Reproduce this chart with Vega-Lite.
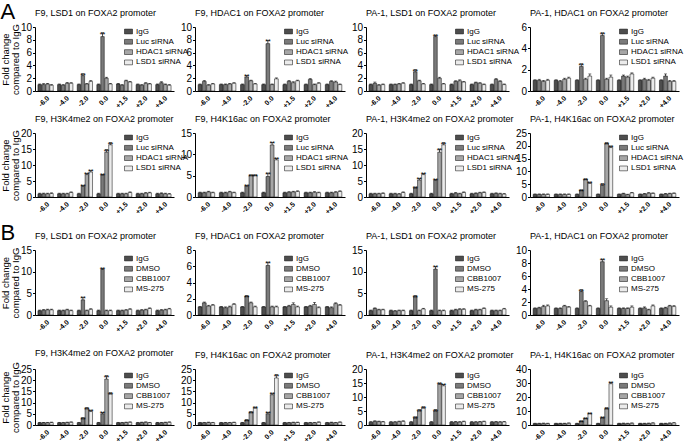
{
"$schema": "https://vega.github.io/schema/vega-lite/v6.json",
"padding": {"left": 0, "top": 1, "right": 1, "bottom": 0},
"data": {"values": [
{"p":"A1","x":"-6.0","g":"IgG","v":1.0,"h":1.1},{"p":"A1","x":"-6.0","g":"Luc siRNA","v":1.0,"h":1.15},{"p":"A1","x":"-6.0","g":"HDAC1 siRNA","v":1.1,"h":1.2},{"p":"A1","x":"-6.0","g":"LSD1 siRNA","v":0.9,"h":1.0},
{"p":"A1","x":"-4.0","g":"IgG","v":1.0,"h":1.1},{"p":"A1","x":"-4.0","g":"Luc siRNA","v":0.9,"h":1.0},{"p":"A1","x":"-4.0","g":"HDAC1 siRNA","v":1.2,"h":1.35},{"p":"A1","x":"-4.0","g":"LSD1 siRNA","v":1.2,"h":1.3},
{"p":"A1","x":"-2.0","g":"IgG","v":1.0,"h":1.1},{"p":"A1","x":"-2.0","g":"Luc siRNA","v":2.4,"h":2.7,"s":"**"},{"p":"A1","x":"-2.0","g":"HDAC1 siRNA","v":1.1,"h":1.2},{"p":"A1","x":"-2.0","g":"LSD1 siRNA","v":1.5,"h":1.65},
{"p":"A1","x":"0.0","g":"IgG","v":1.0,"h":1.1},{"p":"A1","x":"0.0","g":"Luc siRNA","v":8.5,"h":9.1,"s":"**"},{"p":"A1","x":"0.0","g":"HDAC1 siRNA","v":2.0,"h":2.15},{"p":"A1","x":"0.0","g":"LSD1 siRNA","v":1.1,"h":1.2},
{"p":"A1","x":"+1.5","g":"IgG","v":1.1,"h":1.2},{"p":"A1","x":"+1.5","g":"Luc siRNA","v":0.9,"h":1.0},{"p":"A1","x":"+1.5","g":"HDAC1 siRNA","v":1.6,"h":1.7},{"p":"A1","x":"+1.5","g":"LSD1 siRNA","v":1.4,"h":1.5},
{"p":"A1","x":"+2.0","g":"IgG","v":1.0,"h":1.1},{"p":"A1","x":"+2.0","g":"Luc siRNA","v":0.9,"h":1.0},{"p":"A1","x":"+2.0","g":"HDAC1 siRNA","v":1.2,"h":1.3},{"p":"A1","x":"+2.0","g":"LSD1 siRNA","v":1.1,"h":1.2},
{"p":"A1","x":"+4.0","g":"IgG","v":1.0,"h":1.1},{"p":"A1","x":"+4.0","g":"Luc siRNA","v":1.3,"h":1.45},{"p":"A1","x":"+4.0","g":"HDAC1 siRNA","v":1.0,"h":1.1},{"p":"A1","x":"+4.0","g":"LSD1 siRNA","v":0.9,"h":1.0},
{"p":"A2","x":"-6.0","g":"IgG","v":1.0,"h":1.1},{"p":"A2","x":"-6.0","g":"Luc siRNA","v":1.5,"h":1.65},{"p":"A2","x":"-6.0","g":"HDAC1 siRNA","v":0.9,"h":1.0},{"p":"A2","x":"-6.0","g":"LSD1 siRNA","v":1.1,"h":1.2},
{"p":"A2","x":"-4.0","g":"IgG","v":1.0,"h":1.1},{"p":"A2","x":"-4.0","g":"Luc siRNA","v":1.0,"h":1.1},{"p":"A2","x":"-4.0","g":"HDAC1 siRNA","v":1.1,"h":1.2},{"p":"A2","x":"-4.0","g":"LSD1 siRNA","v":1.2,"h":1.3},
{"p":"A2","x":"-2.0","g":"IgG","v":1.0,"h":1.1},{"p":"A2","x":"-2.0","g":"Luc siRNA","v":2.2,"h":2.45,"s":"**"},{"p":"A2","x":"-2.0","g":"HDAC1 siRNA","v":1.6,"h":1.7},{"p":"A2","x":"-2.0","g":"LSD1 siRNA","v":1.1,"h":1.2},
{"p":"A2","x":"0.0","g":"IgG","v":1.0,"h":1.1},{"p":"A2","x":"0.0","g":"Luc siRNA","v":7.4,"h":7.9,"s":"**"},{"p":"A2","x":"0.0","g":"HDAC1 siRNA","v":1.0,"h":1.1},{"p":"A2","x":"0.0","g":"LSD1 siRNA","v":1.9,"h":2.05},
{"p":"A2","x":"+1.5","g":"IgG","v":1.0,"h":1.1},{"p":"A2","x":"+1.5","g":"Luc siRNA","v":1.5,"h":1.65},{"p":"A2","x":"+1.5","g":"HDAC1 siRNA","v":1.3,"h":1.45},{"p":"A2","x":"+1.5","g":"LSD1 siRNA","v":1.6,"h":1.7},
{"p":"A2","x":"+2.0","g":"IgG","v":1.0,"h":1.1},{"p":"A2","x":"+2.0","g":"Luc siRNA","v":1.8,"h":1.95},{"p":"A2","x":"+2.0","g":"HDAC1 siRNA","v":1.0,"h":1.1},{"p":"A2","x":"+2.0","g":"LSD1 siRNA","v":1.2,"h":1.3},
{"p":"A2","x":"+4.0","g":"IgG","v":1.0,"h":1.1},{"p":"A2","x":"+4.0","g":"Luc siRNA","v":1.5,"h":1.6},{"p":"A2","x":"+4.0","g":"HDAC1 siRNA","v":1.4,"h":1.55},{"p":"A2","x":"+4.0","g":"LSD1 siRNA","v":1.0,"h":1.1},
{"p":"A3","x":"-6.0","g":"IgG","v":1.0,"h":1.1},{"p":"A3","x":"-6.0","g":"Luc siRNA","v":1.2,"h":1.4},{"p":"A3","x":"-6.0","g":"HDAC1 siRNA","v":0.9,"h":1.0},{"p":"A3","x":"-6.0","g":"LSD1 siRNA","v":1.0,"h":1.1},
{"p":"A3","x":"-4.0","g":"IgG","v":1.0,"h":1.1},{"p":"A3","x":"-4.0","g":"Luc siRNA","v":1.0,"h":1.1},{"p":"A3","x":"-4.0","g":"HDAC1 siRNA","v":1.1,"h":1.2},{"p":"A3","x":"-4.0","g":"LSD1 siRNA","v":1.2,"h":1.3},
{"p":"A3","x":"-2.0","g":"IgG","v":1.0,"h":1.1},{"p":"A3","x":"-2.0","g":"Luc siRNA","v":3.0,"h":3.35,"s":"**"},{"p":"A3","x":"-2.0","g":"HDAC1 siRNA","v":1.6,"h":1.7},{"p":"A3","x":"-2.0","g":"LSD1 siRNA","v":1.1,"h":1.2},
{"p":"A3","x":"0.0","g":"IgG","v":1.0,"h":1.1},{"p":"A3","x":"0.0","g":"Luc siRNA","v":8.5,"h":8.75,"s":"**"},{"p":"A3","x":"0.0","g":"HDAC1 siRNA","v":2.0,"h":2.15},{"p":"A3","x":"0.0","g":"LSD1 siRNA","v":1.1,"h":1.2},
{"p":"A3","x":"+1.5","g":"IgG","v":1.0,"h":1.1},{"p":"A3","x":"+1.5","g":"Luc siRNA","v":1.5,"h":1.6},{"p":"A3","x":"+1.5","g":"HDAC1 siRNA","v":1.6,"h":1.75},{"p":"A3","x":"+1.5","g":"LSD1 siRNA","v":1.4,"h":1.5},
{"p":"A3","x":"+2.0","g":"IgG","v":1.0,"h":1.1},{"p":"A3","x":"+2.0","g":"Luc siRNA","v":1.3,"h":1.4},{"p":"A3","x":"+2.0","g":"HDAC1 siRNA","v":1.2,"h":1.3},{"p":"A3","x":"+2.0","g":"LSD1 siRNA","v":1.0,"h":1.1},
{"p":"A3","x":"+4.0","g":"IgG","v":1.0,"h":1.1},{"p":"A3","x":"+4.0","g":"Luc siRNA","v":1.8,"h":1.95},{"p":"A3","x":"+4.0","g":"HDAC1 siRNA","v":1.5,"h":1.6},{"p":"A3","x":"+4.0","g":"LSD1 siRNA","v":1.0,"h":1.1},
{"p":"A4","x":"-6.0","g":"IgG","v":1.0,"h":1.05},{"p":"A4","x":"-6.0","g":"Luc siRNA","v":1.0,"h":1.1},{"p":"A4","x":"-6.0","g":"HDAC1 siRNA","v":0.9,"h":1.0},{"p":"A4","x":"-6.0","g":"LSD1 siRNA","v":1.0,"h":1.1},
{"p":"A4","x":"-4.0","g":"IgG","v":1.0,"h":1.05},{"p":"A4","x":"-4.0","g":"Luc siRNA","v":0.9,"h":1.0},{"p":"A4","x":"-4.0","g":"HDAC1 siRNA","v":1.1,"h":1.2},{"p":"A4","x":"-4.0","g":"LSD1 siRNA","v":1.2,"h":1.3},
{"p":"A4","x":"-2.0","g":"IgG","v":1.0,"h":1.05},{"p":"A4","x":"-2.0","g":"Luc siRNA","v":2.3,"h":2.55,"s":"**"},{"p":"A4","x":"-2.0","g":"HDAC1 siRNA","v":1.1,"h":1.2},{"p":"A4","x":"-2.0","g":"LSD1 siRNA","v":1.4,"h":1.6},
{"p":"A4","x":"0.0","g":"IgG","v":1.0,"h":1.05},{"p":"A4","x":"0.0","g":"Luc siRNA","v":5.2,"h":5.45,"s":"**"},{"p":"A4","x":"0.0","g":"HDAC1 siRNA","v":1.1,"h":1.2},{"p":"A4","x":"0.0","g":"LSD1 siRNA","v":1.3,"h":1.5},
{"p":"A4","x":"+1.5","g":"IgG","v":1.0,"h":1.05},{"p":"A4","x":"+1.5","g":"Luc siRNA","v":1.4,"h":1.5},{"p":"A4","x":"+1.5","g":"HDAC1 siRNA","v":1.3,"h":1.4},{"p":"A4","x":"+1.5","g":"LSD1 siRNA","v":1.6,"h":1.7},
{"p":"A4","x":"+2.0","g":"IgG","v":1.0,"h":1.05},{"p":"A4","x":"+2.0","g":"Luc siRNA","v":1.1,"h":1.2},{"p":"A4","x":"+2.0","g":"HDAC1 siRNA","v":1.0,"h":1.1},{"p":"A4","x":"+2.0","g":"LSD1 siRNA","v":1.2,"h":1.3},
{"p":"A4","x":"+4.0","g":"IgG","v":1.0,"h":1.05},{"p":"A4","x":"+4.0","g":"Luc siRNA","v":1.4,"h":1.6},{"p":"A4","x":"+4.0","g":"HDAC1 siRNA","v":0.9,"h":1.0},{"p":"A4","x":"+4.0","g":"LSD1 siRNA","v":0.9,"h":1.0},
{"p":"A5","x":"-6.0","g":"IgG","v":1.0,"h":1.2},{"p":"A5","x":"-6.0","g":"Luc siRNA","v":1.0,"h":1.2},{"p":"A5","x":"-6.0","g":"HDAC1 siRNA","v":1.0,"h":1.2},{"p":"A5","x":"-6.0","g":"LSD1 siRNA","v":1.1,"h":1.3},
{"p":"A5","x":"-4.0","g":"IgG","v":1.0,"h":1.2},{"p":"A5","x":"-4.0","g":"Luc siRNA","v":1.0,"h":1.2},{"p":"A5","x":"-4.0","g":"HDAC1 siRNA","v":1.0,"h":1.2},{"p":"A5","x":"-4.0","g":"LSD1 siRNA","v":1.4,"h":1.6},
{"p":"A5","x":"-2.0","g":"IgG","v":1.0,"h":1.2},{"p":"A5","x":"-2.0","g":"Luc siRNA","v":3.3,"h":3.6,"s":"**"},{"p":"A5","x":"-2.0","g":"HDAC1 siRNA","v":7.0,"h":7.4,"s":"**"},{"p":"A5","x":"-2.0","g":"LSD1 siRNA","v":7.8,"h":8.3,"s":"**"},
{"p":"A5","x":"0.0","g":"IgG","v":1.0,"h":1.2},{"p":"A5","x":"0.0","g":"Luc siRNA","v":6.8,"h":7.1,"s":"**"},{"p":"A5","x":"0.0","g":"HDAC1 siRNA","v":14.0,"h":14.8,"s":"**"},{"p":"A5","x":"0.0","g":"LSD1 siRNA","v":16.3,"h":17.0,"s":"**"},
{"p":"A5","x":"+1.5","g":"IgG","v":1.0,"h":1.2},{"p":"A5","x":"+1.5","g":"Luc siRNA","v":1.0,"h":1.2},{"p":"A5","x":"+1.5","g":"HDAC1 siRNA","v":1.0,"h":1.2},{"p":"A5","x":"+1.5","g":"LSD1 siRNA","v":1.4,"h":1.6},
{"p":"A5","x":"+2.0","g":"IgG","v":1.0,"h":1.2},{"p":"A5","x":"+2.0","g":"Luc siRNA","v":1.0,"h":1.2},{"p":"A5","x":"+2.0","g":"HDAC1 siRNA","v":1.2,"h":1.4},{"p":"A5","x":"+2.0","g":"LSD1 siRNA","v":1.3,"h":1.5},
{"p":"A5","x":"+4.0","g":"IgG","v":1.0,"h":1.2},{"p":"A5","x":"+4.0","g":"Luc siRNA","v":1.1,"h":1.3},{"p":"A5","x":"+4.0","g":"HDAC1 siRNA","v":1.0,"h":1.2},{"p":"A5","x":"+4.0","g":"LSD1 siRNA","v":0.9,"h":1.1},
{"p":"A6","x":"-6.0","g":"IgG","v":1.0,"h":1.15},{"p":"A6","x":"-6.0","g":"Luc siRNA","v":1.0,"h":1.15},{"p":"A6","x":"-6.0","g":"HDAC1 siRNA","v":1.2,"h":1.35},{"p":"A6","x":"-6.0","g":"LSD1 siRNA","v":1.0,"h":1.15},
{"p":"A6","x":"-4.0","g":"IgG","v":1.0,"h":1.15},{"p":"A6","x":"-4.0","g":"Luc siRNA","v":1.0,"h":1.15},{"p":"A6","x":"-4.0","g":"HDAC1 siRNA","v":1.2,"h":1.35},{"p":"A6","x":"-4.0","g":"LSD1 siRNA","v":1.0,"h":1.15},
{"p":"A6","x":"-2.0","g":"IgG","v":1.0,"h":1.15},{"p":"A6","x":"-2.0","g":"Luc siRNA","v":2.5,"h":2.75,"s":"**"},{"p":"A6","x":"-2.0","g":"HDAC1 siRNA","v":5.0,"h":5.2,"s":"**"},{"p":"A6","x":"-2.0","g":"LSD1 siRNA","v":5.0,"h":5.2,"s":"**"},
{"p":"A6","x":"0.0","g":"IgG","v":1.0,"h":1.15},{"p":"A6","x":"0.0","g":"Luc siRNA","v":4.8,"h":5.6,"s":"**"},{"p":"A6","x":"0.0","g":"HDAC1 siRNA","v":12.2,"h":12.8,"s":"**"},{"p":"A6","x":"0.0","g":"LSD1 siRNA","v":8.7,"h":9.1,"s":"**"},
{"p":"A6","x":"+1.5","g":"IgG","v":1.0,"h":1.15},{"p":"A6","x":"+1.5","g":"Luc siRNA","v":1.1,"h":1.25},{"p":"A6","x":"+1.5","g":"HDAC1 siRNA","v":1.2,"h":1.35},{"p":"A6","x":"+1.5","g":"LSD1 siRNA","v":1.3,"h":1.45},
{"p":"A6","x":"+2.0","g":"IgG","v":1.0,"h":1.15},{"p":"A6","x":"+2.0","g":"Luc siRNA","v":1.0,"h":1.15},{"p":"A6","x":"+2.0","g":"HDAC1 siRNA","v":1.1,"h":1.25},{"p":"A6","x":"+2.0","g":"LSD1 siRNA","v":1.0,"h":1.15},
{"p":"A6","x":"+4.0","g":"IgG","v":1.0,"h":1.15},{"p":"A6","x":"+4.0","g":"Luc siRNA","v":1.0,"h":1.15},{"p":"A6","x":"+4.0","g":"HDAC1 siRNA","v":1.1,"h":1.25},{"p":"A6","x":"+4.0","g":"LSD1 siRNA","v":1.3,"h":1.45},
{"p":"A7","x":"-6.0","g":"IgG","v":1.0,"h":1.2},{"p":"A7","x":"-6.0","g":"Luc siRNA","v":1.0,"h":1.2},{"p":"A7","x":"-6.0","g":"HDAC1 siRNA","v":1.0,"h":1.2},{"p":"A7","x":"-6.0","g":"LSD1 siRNA","v":1.1,"h":1.3},
{"p":"A7","x":"-4.0","g":"IgG","v":1.0,"h":1.2},{"p":"A7","x":"-4.0","g":"Luc siRNA","v":1.0,"h":1.2},{"p":"A7","x":"-4.0","g":"HDAC1 siRNA","v":0.9,"h":1.1},{"p":"A7","x":"-4.0","g":"LSD1 siRNA","v":1.4,"h":1.6},
{"p":"A7","x":"-2.0","g":"IgG","v":1.0,"h":1.2},{"p":"A7","x":"-2.0","g":"Luc siRNA","v":2.8,"h":3.1,"s":"**"},{"p":"A7","x":"-2.0","g":"HDAC1 siRNA","v":5.3,"h":5.8,"s":"**"},{"p":"A7","x":"-2.0","g":"LSD1 siRNA","v":7.0,"h":7.4,"s":"**"},
{"p":"A7","x":"0.0","g":"IgG","v":1.0,"h":1.2},{"p":"A7","x":"0.0","g":"Luc siRNA","v":5.2,"h":5.5,"s":"**"},{"p":"A7","x":"0.0","g":"HDAC1 siRNA","v":14.0,"h":15.0,"s":"**"},{"p":"A7","x":"0.0","g":"LSD1 siRNA","v":16.3,"h":17.0,"s":"**"},
{"p":"A7","x":"+1.5","g":"IgG","v":1.0,"h":1.2},{"p":"A7","x":"+1.5","g":"Luc siRNA","v":1.2,"h":1.4},{"p":"A7","x":"+1.5","g":"HDAC1 siRNA","v":1.0,"h":1.2},{"p":"A7","x":"+1.5","g":"LSD1 siRNA","v":1.4,"h":1.6},
{"p":"A7","x":"+2.0","g":"IgG","v":1.0,"h":1.2},{"p":"A7","x":"+2.0","g":"Luc siRNA","v":1.1,"h":1.3},{"p":"A7","x":"+2.0","g":"HDAC1 siRNA","v":1.3,"h":1.5},{"p":"A7","x":"+2.0","g":"LSD1 siRNA","v":1.4,"h":1.6},
{"p":"A7","x":"+4.0","g":"IgG","v":1.0,"h":1.2},{"p":"A7","x":"+4.0","g":"Luc siRNA","v":1.1,"h":1.3},{"p":"A7","x":"+4.0","g":"HDAC1 siRNA","v":1.0,"h":1.2},{"p":"A7","x":"+4.0","g":"LSD1 siRNA","v":0.9,"h":1.1},
{"p":"A8","x":"-6.0","g":"IgG","v":1.0,"h":1.2},{"p":"A8","x":"-6.0","g":"Luc siRNA","v":1.0,"h":1.2},{"p":"A8","x":"-6.0","g":"HDAC1 siRNA","v":1.0,"h":1.2},{"p":"A8","x":"-6.0","g":"LSD1 siRNA","v":1.0,"h":1.2},
{"p":"A8","x":"-4.0","g":"IgG","v":1.0,"h":1.2},{"p":"A8","x":"-4.0","g":"Luc siRNA","v":1.0,"h":1.2},{"p":"A8","x":"-4.0","g":"HDAC1 siRNA","v":1.0,"h":1.2},{"p":"A8","x":"-4.0","g":"LSD1 siRNA","v":1.0,"h":1.2},
{"p":"A8","x":"-2.0","g":"IgG","v":1.0,"h":1.2},{"p":"A8","x":"-2.0","g":"Luc siRNA","v":2.5,"h":2.8,"s":"**"},{"p":"A8","x":"-2.0","g":"HDAC1 siRNA","v":6.8,"h":7.1,"s":"**"},{"p":"A8","x":"-2.0","g":"LSD1 siRNA","v":5.3,"h":5.8,"s":"**"},
{"p":"A8","x":"0.0","g":"IgG","v":1.0,"h":1.2},{"p":"A8","x":"0.0","g":"Luc siRNA","v":4.5,"h":5.2,"s":"**"},{"p":"A8","x":"0.0","g":"HDAC1 siRNA","v":20.8,"h":21.2,"s":"**"},{"p":"A8","x":"0.0","g":"LSD1 siRNA","v":19.3,"h":19.9,"s":"**"},
{"p":"A8","x":"+1.5","g":"IgG","v":1.0,"h":1.2},{"p":"A8","x":"+1.5","g":"Luc siRNA","v":1.3,"h":1.5},{"p":"A8","x":"+1.5","g":"HDAC1 siRNA","v":0.9,"h":1.1},{"p":"A8","x":"+1.5","g":"LSD1 siRNA","v":1.6,"h":1.8},
{"p":"A8","x":"+2.0","g":"IgG","v":1.0,"h":1.2},{"p":"A8","x":"+2.0","g":"Luc siRNA","v":1.2,"h":1.4},{"p":"A8","x":"+2.0","g":"HDAC1 siRNA","v":1.5,"h":1.7},{"p":"A8","x":"+2.0","g":"LSD1 siRNA","v":1.4,"h":1.6},
{"p":"A8","x":"+4.0","g":"IgG","v":1.0,"h":1.2},{"p":"A8","x":"+4.0","g":"Luc siRNA","v":1.2,"h":1.4},{"p":"A8","x":"+4.0","g":"HDAC1 siRNA","v":1.3,"h":1.5},{"p":"A8","x":"+4.0","g":"LSD1 siRNA","v":1.4,"h":1.6},
{"p":"B1","x":"-6.0","g":"IgG","v":1.0,"h":1.15},{"p":"B1","x":"-6.0","g":"DMSO","v":1.1,"h":1.25},{"p":"B1","x":"-6.0","g":"CBB1007","v":1.2,"h":1.35},{"p":"B1","x":"-6.0","g":"MS-275","v":1.2,"h":1.35},
{"p":"B1","x":"-4.0","g":"IgG","v":1.0,"h":1.15},{"p":"B1","x":"-4.0","g":"DMSO","v":1.0,"h":1.15},{"p":"B1","x":"-4.0","g":"CBB1007","v":1.2,"h":1.35},{"p":"B1","x":"-4.0","g":"MS-275","v":1.0,"h":1.15},
{"p":"B1","x":"-2.0","g":"IgG","v":1.0,"h":1.15},{"p":"B1","x":"-2.0","g":"DMSO","v":3.5,"h":4.1,"s":"**"},{"p":"B1","x":"-2.0","g":"CBB1007","v":1.0,"h":1.15},{"p":"B1","x":"-2.0","g":"MS-275","v":1.3,"h":1.45},
{"p":"B1","x":"0.0","g":"IgG","v":1.0,"h":1.15},{"p":"B1","x":"0.0","g":"DMSO","v":10.5,"h":10.8,"s":"**"},{"p":"B1","x":"0.0","g":"CBB1007","v":1.0,"h":1.15},{"p":"B1","x":"0.0","g":"MS-275","v":1.0,"h":1.15},
{"p":"B1","x":"+1.5","g":"IgG","v":1.0,"h":1.15},{"p":"B1","x":"+1.5","g":"DMSO","v":1.0,"h":1.15},{"p":"B1","x":"+1.5","g":"CBB1007","v":1.1,"h":1.25},{"p":"B1","x":"+1.5","g":"MS-275","v":1.3,"h":1.45},
{"p":"B1","x":"+2.0","g":"IgG","v":1.0,"h":1.15},{"p":"B1","x":"+2.0","g":"DMSO","v":1.1,"h":1.25},{"p":"B1","x":"+2.0","g":"CBB1007","v":1.2,"h":1.35},{"p":"B1","x":"+2.0","g":"MS-275","v":1.5,"h":1.65},
{"p":"B1","x":"+4.0","g":"IgG","v":1.0,"h":1.15},{"p":"B1","x":"+4.0","g":"DMSO","v":1.1,"h":1.25},{"p":"B1","x":"+4.0","g":"CBB1007","v":1.2,"h":1.35},{"p":"B1","x":"+4.0","g":"MS-275","v":1.4,"h":1.55},
{"p":"B2","x":"-6.0","g":"IgG","v":1.0,"h":1.05},{"p":"B2","x":"-6.0","g":"DMSO","v":1.5,"h":1.6},{"p":"B2","x":"-6.0","g":"CBB1007","v":1.1,"h":1.2},{"p":"B2","x":"-6.0","g":"MS-275","v":1.2,"h":1.3},
{"p":"B2","x":"-4.0","g":"IgG","v":1.0,"h":1.05},{"p":"B2","x":"-4.0","g":"DMSO","v":0.9,"h":1.0},{"p":"B2","x":"-4.0","g":"CBB1007","v":1.0,"h":1.1},{"p":"B2","x":"-4.0","g":"MS-275","v":1.3,"h":1.4},
{"p":"B2","x":"-2.0","g":"IgG","v":1.0,"h":1.05},{"p":"B2","x":"-2.0","g":"DMSO","v":2.3,"h":2.4,"s":"**"},{"p":"B2","x":"-2.0","g":"CBB1007","v":1.5,"h":1.6},{"p":"B2","x":"-2.0","g":"MS-275","v":1.0,"h":1.1},
{"p":"B2","x":"0.0","g":"IgG","v":1.0,"h":1.05},{"p":"B2","x":"0.0","g":"DMSO","v":6.1,"h":6.5,"s":"**"},{"p":"B2","x":"0.0","g":"CBB1007","v":1.0,"h":1.1},{"p":"B2","x":"0.0","g":"MS-275","v":1.0,"h":1.1},
{"p":"B2","x":"+1.5","g":"IgG","v":1.0,"h":1.05},{"p":"B2","x":"+1.5","g":"DMSO","v":1.1,"h":1.2},{"p":"B2","x":"+1.5","g":"CBB1007","v":1.3,"h":1.5},{"p":"B2","x":"+1.5","g":"MS-275","v":1.0,"h":1.1},
{"p":"B2","x":"+2.0","g":"IgG","v":1.0,"h":1.05},{"p":"B2","x":"+2.0","g":"DMSO","v":1.1,"h":1.2},{"p":"B2","x":"+2.0","g":"CBB1007","v":1.3,"h":1.55},{"p":"B2","x":"+2.0","g":"MS-275","v":0.9,"h":1.0},
{"p":"B2","x":"+4.0","g":"IgG","v":1.0,"h":1.05},{"p":"B2","x":"+4.0","g":"DMSO","v":0.9,"h":1.0},{"p":"B2","x":"+4.0","g":"CBB1007","v":1.4,"h":1.5},{"p":"B2","x":"+4.0","g":"MS-275","v":1.2,"h":1.3},
{"p":"B3","x":"-6.0","g":"IgG","v":1.0,"h":1.15},{"p":"B3","x":"-6.0","g":"DMSO","v":1.5,"h":1.65},{"p":"B3","x":"-6.0","g":"CBB1007","v":1.2,"h":1.35},{"p":"B3","x":"-6.0","g":"MS-275","v":1.2,"h":1.35},
{"p":"B3","x":"-4.0","g":"IgG","v":1.0,"h":1.15},{"p":"B3","x":"-4.0","g":"DMSO","v":0.9,"h":1.05},{"p":"B3","x":"-4.0","g":"CBB1007","v":1.0,"h":1.15},{"p":"B3","x":"-4.0","g":"MS-275","v":1.0,"h":1.15},
{"p":"B3","x":"-2.0","g":"IgG","v":1.0,"h":1.15},{"p":"B3","x":"-2.0","g":"DMSO","v":4.2,"h":4.5,"s":"**"},{"p":"B3","x":"-2.0","g":"CBB1007","v":1.0,"h":1.15},{"p":"B3","x":"-2.0","g":"MS-275","v":1.4,"h":1.55},
{"p":"B3","x":"0.0","g":"IgG","v":1.0,"h":1.15},{"p":"B3","x":"0.0","g":"DMSO","v":10.6,"h":11.2,"s":"**"},{"p":"B3","x":"0.0","g":"CBB1007","v":1.0,"h":1.15},{"p":"B3","x":"0.0","g":"MS-275","v":1.0,"h":1.15},
{"p":"B3","x":"+1.5","g":"IgG","v":1.0,"h":1.15},{"p":"B3","x":"+1.5","g":"DMSO","v":1.2,"h":1.35},{"p":"B3","x":"+1.5","g":"CBB1007","v":1.3,"h":1.45},{"p":"B3","x":"+1.5","g":"MS-275","v":1.3,"h":1.45},
{"p":"B3","x":"+2.0","g":"IgG","v":1.0,"h":1.15},{"p":"B3","x":"+2.0","g":"DMSO","v":1.2,"h":1.35},{"p":"B3","x":"+2.0","g":"CBB1007","v":1.2,"h":1.35},{"p":"B3","x":"+2.0","g":"MS-275","v":1.5,"h":1.65},
{"p":"B3","x":"+4.0","g":"IgG","v":1.0,"h":1.15},{"p":"B3","x":"+4.0","g":"DMSO","v":1.0,"h":1.15},{"p":"B3","x":"+4.0","g":"CBB1007","v":1.0,"h":1.15},{"p":"B3","x":"+4.0","g":"MS-275","v":1.4,"h":1.55},
{"p":"B4","x":"-6.0","g":"IgG","v":1.0,"h":1.1},{"p":"B4","x":"-6.0","g":"DMSO","v":1.1,"h":1.2},{"p":"B4","x":"-6.0","g":"CBB1007","v":1.3,"h":1.5},{"p":"B4","x":"-6.0","g":"MS-275","v":1.4,"h":1.55},
{"p":"B4","x":"-4.0","g":"IgG","v":1.0,"h":1.1},{"p":"B4","x":"-4.0","g":"DMSO","v":1.0,"h":1.1},{"p":"B4","x":"-4.0","g":"CBB1007","v":1.4,"h":1.5},{"p":"B4","x":"-4.0","g":"MS-275","v":1.2,"h":1.3},
{"p":"B4","x":"-2.0","g":"IgG","v":1.0,"h":1.1},{"p":"B4","x":"-2.0","g":"DMSO","v":3.6,"h":3.9,"s":"**"},{"p":"B4","x":"-2.0","g":"CBB1007","v":2.1,"h":2.2},{"p":"B4","x":"-2.0","g":"MS-275","v":1.4,"h":1.5},
{"p":"B4","x":"0.0","g":"IgG","v":1.0,"h":1.1},{"p":"B4","x":"0.0","g":"DMSO","v":8.2,"h":8.6,"s":"**"},{"p":"B4","x":"0.0","g":"CBB1007","v":2.2,"h":2.5},{"p":"B4","x":"0.0","g":"MS-275","v":1.2,"h":1.4},
{"p":"B4","x":"+1.5","g":"IgG","v":1.0,"h":1.1},{"p":"B4","x":"+1.5","g":"DMSO","v":1.0,"h":1.1},{"p":"B4","x":"+1.5","g":"CBB1007","v":1.0,"h":1.1},{"p":"B4","x":"+1.5","g":"MS-275","v":1.2,"h":1.4},
{"p":"B4","x":"+2.0","g":"IgG","v":1.0,"h":1.1},{"p":"B4","x":"+2.0","g":"DMSO","v":1.1,"h":1.25},{"p":"B4","x":"+2.0","g":"CBB1007","v":0.8,"h":0.9},{"p":"B4","x":"+2.0","g":"MS-275","v":1.4,"h":1.55},
{"p":"B4","x":"+4.0","g":"IgG","v":1.0,"h":1.1},{"p":"B4","x":"+4.0","g":"DMSO","v":1.1,"h":1.2},{"p":"B4","x":"+4.0","g":"CBB1007","v":1.4,"h":1.5},{"p":"B4","x":"+4.0","g":"MS-275","v":1.3,"h":1.45},
{"p":"B5","x":"-6.0","g":"IgG","v":1.0,"h":1.2},{"p":"B5","x":"-6.0","g":"DMSO","v":1.0,"h":1.2},{"p":"B5","x":"-6.0","g":"CBB1007","v":1.0,"h":1.2},{"p":"B5","x":"-6.0","g":"MS-275","v":1.1,"h":1.3},
{"p":"B5","x":"-4.0","g":"IgG","v":1.0,"h":1.2},{"p":"B5","x":"-4.0","g":"DMSO","v":1.0,"h":1.2},{"p":"B5","x":"-4.0","g":"CBB1007","v":1.1,"h":1.3},{"p":"B5","x":"-4.0","g":"MS-275","v":1.2,"h":1.4},
{"p":"B5","x":"-2.0","g":"IgG","v":1.0,"h":1.2},{"p":"B5","x":"-2.0","g":"DMSO","v":2.8,"h":3.3,"s":"**"},{"p":"B5","x":"-2.0","g":"CBB1007","v":7.2,"h":7.8,"s":"**"},{"p":"B5","x":"-2.0","g":"MS-275","v":6.0,"h":6.6,"s":"**"},
{"p":"B5","x":"0.0","g":"IgG","v":1.0,"h":1.2},{"p":"B5","x":"0.0","g":"DMSO","v":5.0,"h":5.6,"s":"**"},{"p":"B5","x":"0.0","g":"CBB1007","v":20.5,"h":22.0,"s":"**"},{"p":"B5","x":"0.0","g":"MS-275","v":13.8,"h":14.4,"s":"**"},
{"p":"B5","x":"+1.5","g":"IgG","v":1.0,"h":1.2},{"p":"B5","x":"+1.5","g":"DMSO","v":1.0,"h":1.2},{"p":"B5","x":"+1.5","g":"CBB1007","v":1.1,"h":1.3},{"p":"B5","x":"+1.5","g":"MS-275","v":1.2,"h":1.4},
{"p":"B5","x":"+2.0","g":"IgG","v":1.0,"h":1.2},{"p":"B5","x":"+2.0","g":"DMSO","v":1.1,"h":1.3},{"p":"B5","x":"+2.0","g":"CBB1007","v":1.2,"h":1.4},{"p":"B5","x":"+2.0","g":"MS-275","v":1.0,"h":1.2},
{"p":"B5","x":"+4.0","g":"IgG","v":1.0,"h":1.2},{"p":"B5","x":"+4.0","g":"DMSO","v":1.0,"h":1.2},{"p":"B5","x":"+4.0","g":"CBB1007","v":1.1,"h":1.3},{"p":"B5","x":"+4.0","g":"MS-275","v":1.2,"h":1.4},
{"p":"B6","x":"-6.0","g":"IgG","v":1.0,"h":1.2},{"p":"B6","x":"-6.0","g":"DMSO","v":1.0,"h":1.2},{"p":"B6","x":"-6.0","g":"CBB1007","v":1.1,"h":1.3},{"p":"B6","x":"-6.0","g":"MS-275","v":1.0,"h":1.2},
{"p":"B6","x":"-4.0","g":"IgG","v":1.0,"h":1.2},{"p":"B6","x":"-4.0","g":"DMSO","v":1.0,"h":1.2},{"p":"B6","x":"-4.0","g":"CBB1007","v":1.0,"h":1.2},{"p":"B6","x":"-4.0","g":"MS-275","v":1.1,"h":1.3},
{"p":"B6","x":"-2.0","g":"IgG","v":1.0,"h":1.2},{"p":"B6","x":"-2.0","g":"DMSO","v":2.0,"h":2.4,"s":"**"},{"p":"B6","x":"-2.0","g":"CBB1007","v":5.5,"h":6.0,"s":"**"},{"p":"B6","x":"-2.0","g":"MS-275","v":7.5,"h":8.0,"s":"**"},
{"p":"B6","x":"0.0","g":"IgG","v":1.0,"h":1.2},{"p":"B6","x":"0.0","g":"DMSO","v":5.0,"h":5.6,"s":"**"},{"p":"B6","x":"0.0","g":"CBB1007","v":13.5,"h":14.2,"s":"**"},{"p":"B6","x":"0.0","g":"MS-275","v":21.0,"h":22.5,"s":"**"},
{"p":"B6","x":"+1.5","g":"IgG","v":1.0,"h":1.2},{"p":"B6","x":"+1.5","g":"DMSO","v":1.0,"h":1.2},{"p":"B6","x":"+1.5","g":"CBB1007","v":1.1,"h":1.3},{"p":"B6","x":"+1.5","g":"MS-275","v":1.1,"h":1.3},
{"p":"B6","x":"+2.0","g":"IgG","v":1.0,"h":1.2},{"p":"B6","x":"+2.0","g":"DMSO","v":1.0,"h":1.2},{"p":"B6","x":"+2.0","g":"CBB1007","v":1.0,"h":1.2},{"p":"B6","x":"+2.0","g":"MS-275","v":1.2,"h":1.4},
{"p":"B6","x":"+4.0","g":"IgG","v":1.0,"h":1.2},{"p":"B6","x":"+4.0","g":"DMSO","v":1.1,"h":1.3},{"p":"B6","x":"+4.0","g":"CBB1007","v":1.0,"h":1.2},{"p":"B6","x":"+4.0","g":"MS-275","v":1.2,"h":1.4},
{"p":"B7","x":"-6.0","g":"IgG","v":1.0,"h":1.2},{"p":"B7","x":"-6.0","g":"DMSO","v":1.3,"h":1.5},{"p":"B7","x":"-6.0","g":"CBB1007","v":1.2,"h":1.4},{"p":"B7","x":"-6.0","g":"MS-275","v":1.1,"h":1.3},
{"p":"B7","x":"-4.0","g":"IgG","v":1.0,"h":1.2},{"p":"B7","x":"-4.0","g":"DMSO","v":1.0,"h":1.2},{"p":"B7","x":"-4.0","g":"CBB1007","v":1.2,"h":1.4},{"p":"B7","x":"-4.0","g":"MS-275","v":1.3,"h":1.5},
{"p":"B7","x":"-2.0","g":"IgG","v":1.0,"h":1.2},{"p":"B7","x":"-2.0","g":"DMSO","v":2.5,"h":2.9,"s":"**"},{"p":"B7","x":"-2.0","g":"CBB1007","v":5.0,"h":5.5,"s":"**"},{"p":"B7","x":"-2.0","g":"MS-275","v":6.0,"h":6.5,"s":"**"},
{"p":"B7","x":"0.0","g":"IgG","v":1.0,"h":1.2},{"p":"B7","x":"0.0","g":"DMSO","v":5.0,"h":5.5,"s":"**"},{"p":"B7","x":"0.0","g":"CBB1007","v":14.5,"h":15.0,"s":"**"},{"p":"B7","x":"0.0","g":"MS-275","v":14.0,"h":14.5,"s":"**"},
{"p":"B7","x":"+1.5","g":"IgG","v":1.0,"h":1.2},{"p":"B7","x":"+1.5","g":"DMSO","v":1.1,"h":1.3},{"p":"B7","x":"+1.5","g":"CBB1007","v":1.0,"h":1.2},{"p":"B7","x":"+1.5","g":"MS-275","v":1.2,"h":1.4},
{"p":"B7","x":"+2.0","g":"IgG","v":1.0,"h":1.2},{"p":"B7","x":"+2.0","g":"DMSO","v":1.0,"h":1.2},{"p":"B7","x":"+2.0","g":"CBB1007","v":1.1,"h":1.3},{"p":"B7","x":"+2.0","g":"MS-275","v":1.2,"h":1.4},
{"p":"B7","x":"+4.0","g":"IgG","v":1.0,"h":1.2},{"p":"B7","x":"+4.0","g":"DMSO","v":1.1,"h":1.3},{"p":"B7","x":"+4.0","g":"CBB1007","v":1.0,"h":1.2},{"p":"B7","x":"+4.0","g":"MS-275","v":1.1,"h":1.3},
{"p":"B8","x":"-6.0","g":"IgG","v":1.0,"h":1.3},{"p":"B8","x":"-6.0","g":"DMSO","v":1.0,"h":1.3},{"p":"B8","x":"-6.0","g":"CBB1007","v":1.1,"h":1.4},{"p":"B8","x":"-6.0","g":"MS-275","v":1.0,"h":1.3},
{"p":"B8","x":"-4.0","g":"IgG","v":1.0,"h":1.3},{"p":"B8","x":"-4.0","g":"DMSO","v":1.0,"h":1.3},{"p":"B8","x":"-4.0","g":"CBB1007","v":1.0,"h":1.3},{"p":"B8","x":"-4.0","g":"MS-275","v":1.2,"h":1.5},
{"p":"B8","x":"-2.0","g":"IgG","v":1.0,"h":1.3},{"p":"B8","x":"-2.0","g":"DMSO","v":2.5,"h":3.0,"s":"**"},{"p":"B8","x":"-2.0","g":"CBB1007","v":4.5,"h":5.0,"s":"**"},{"p":"B8","x":"-2.0","g":"MS-275","v":8.0,"h":8.5,"s":"**"},
{"p":"B8","x":"0.0","g":"IgG","v":1.0,"h":1.3},{"p":"B8","x":"0.0","g":"DMSO","v":5.0,"h":5.6,"s":"**"},{"p":"B8","x":"0.0","g":"CBB1007","v":11.5,"h":12.3,"s":"**"},{"p":"B8","x":"0.0","g":"MS-275","v":29.5,"h":30.5,"s":"**"},
{"p":"B8","x":"+1.5","g":"IgG","v":1.0,"h":1.3},{"p":"B8","x":"+1.5","g":"DMSO","v":1.1,"h":1.4},{"p":"B8","x":"+1.5","g":"CBB1007","v":1.0,"h":1.3},{"p":"B8","x":"+1.5","g":"MS-275","v":1.2,"h":1.5},
{"p":"B8","x":"+2.0","g":"IgG","v":1.0,"h":1.3},{"p":"B8","x":"+2.0","g":"DMSO","v":1.0,"h":1.3},{"p":"B8","x":"+2.0","g":"CBB1007","v":1.1,"h":1.4},{"p":"B8","x":"+2.0","g":"MS-275","v":1.3,"h":1.6},
{"p":"B8","x":"+4.0","g":"IgG","v":1.0,"h":1.3},{"p":"B8","x":"+4.0","g":"DMSO","v":1.0,"h":1.3},{"p":"B8","x":"+4.0","g":"CBB1007","v":1.2,"h":1.5},{"p":"B8","x":"+4.0","g":"MS-275","v":1.4,"h":1.7}
]},
"spacing": 7,
"resolve": {"scale": {"fill": "independent", "xOffset": "independent"}, "legend": {"fill": "independent"}},
"vconcat": [
{
"title": {"text": "A", "anchor": "start", "frame": "bounds", "fontSize": 22, "fontWeight": "normal", "offset": -15},
"spacing": 6,
"resolve": {"scale": {"fill": "independent", "xOffset": "independent"}, "legend": {"fill": "independent"}},
"vconcat": [
{"bounds": "flush", "spacing": 21,
"resolve": {"scale": {"fill": "independent", "xOffset": "independent"}, "legend": {"fill": "independent"}},
"hconcat": [
{"title":"F9, LSD1 on FOXA2 promoter","width":139,"height":64,"transform":[{"filter":"datum.p=='A1'"}],
"encoding":{"x":{"field":"x","type":"nominal","sort":["-6.0","-4.0","-2.0","0.0","+1.5","+2.0","+4.0"],"title":null,"scale":{"paddingInner":0.22,"paddingOuter":0.15}},"xOffset":{"field":"g","type":"nominal","sort":["IgG","Luc siRNA","HDAC1 siRNA","LSD1 siRNA"],"scale":{"paddingInner":0.12}},"y":{"field":"v","type":"quantitative","scale":{"domain":[0,10]},"axis":{"values":[0,2,4,6,8,10]},"title":["Fold change","compared to IgG"]}},
"layer":[{"mark":"bar","encoding":{"fill":{"field":"g","type":"nominal","scale":{"domain":["IgG","Luc siRNA","HDAC1 siRNA","LSD1 siRNA"],"range":["#4d4d4d","#7a7a7a","#a6a6a6","#ebebeb"]},"title":null}}},{"mark":"rule","encoding":{"y2":{"field":"h"}}},{"mark":{"type":"tick","size":3},"encoding":{"y":{"field":"h","type":"quantitative"}}},{"mark":"text","transform":[{"filter":"datum.s"}],"encoding":{"y":{"field":"h","type":"quantitative"},"text":{"field":"s"}}}]},
{"title":"F9, HDAC1 on FOXA2 promoter","width":150,"height":64,"transform":[{"filter":"datum.p=='A2'"}],
"encoding":{"x":{"field":"x","type":"nominal","sort":["-6.0","-4.0","-2.0","0.0","+1.5","+2.0","+4.0"],"title":null,"scale":{"paddingInner":0.22,"paddingOuter":0.15}},"xOffset":{"field":"g","type":"nominal","sort":["IgG","Luc siRNA","HDAC1 siRNA","LSD1 siRNA"],"scale":{"paddingInner":0.12}},"y":{"field":"v","type":"quantitative","scale":{"domain":[0,10]},"axis":{"values":[0,2,4,6,8,10]},"title":null}},
"layer":[{"mark":"bar","encoding":{"fill":{"field":"g","type":"nominal","scale":{"domain":["IgG","Luc siRNA","HDAC1 siRNA","LSD1 siRNA"],"range":["#4d4d4d","#7a7a7a","#a6a6a6","#ebebeb"]},"title":null}}},{"mark":"rule","encoding":{"y2":{"field":"h"}}},{"mark":{"type":"tick","size":3},"encoding":{"y":{"field":"h","type":"quantitative"}}},{"mark":"text","transform":[{"filter":"datum.s"}],"encoding":{"y":{"field":"h","type":"quantitative"},"text":{"field":"s"}}}]},
{"title":"PA-1, LSD1 on FOXA2 promoter","width":143,"height":64,"transform":[{"filter":"datum.p=='A3'"}],
"encoding":{"x":{"field":"x","type":"nominal","sort":["-6.0","-4.0","-2.0","0.0","+1.5","+2.0","+4.0"],"title":null,"scale":{"paddingInner":0.22,"paddingOuter":0.15}},"xOffset":{"field":"g","type":"nominal","sort":["IgG","Luc siRNA","HDAC1 siRNA","LSD1 siRNA"],"scale":{"paddingInner":0.12}},"y":{"field":"v","type":"quantitative","scale":{"domain":[0,10]},"axis":{"values":[0,2,4,6,8,10]},"title":null}},
"layer":[{"mark":"bar","encoding":{"fill":{"field":"g","type":"nominal","scale":{"domain":["IgG","Luc siRNA","HDAC1 siRNA","LSD1 siRNA"],"range":["#4d4d4d","#7a7a7a","#a6a6a6","#ebebeb"]},"title":null}}},{"mark":"rule","encoding":{"y2":{"field":"h"}}},{"mark":{"type":"tick","size":3},"encoding":{"y":{"field":"h","type":"quantitative"}}},{"mark":"text","transform":[{"filter":"datum.s"}],"encoding":{"y":{"field":"h","type":"quantitative"},"text":{"field":"s"}}}]},
{"title":"PA-1, HDAC1 on FOXA2 promoter","width":149,"height":64,"transform":[{"filter":"datum.p=='A4'"}],
"encoding":{"x":{"field":"x","type":"nominal","sort":["-6.0","-4.0","-2.0","0.0","+1.5","+2.0","+4.0"],"title":null,"scale":{"paddingInner":0.22,"paddingOuter":0.15}},"xOffset":{"field":"g","type":"nominal","sort":["IgG","Luc siRNA","HDAC1 siRNA","LSD1 siRNA"],"scale":{"paddingInner":0.12}},"y":{"field":"v","type":"quantitative","scale":{"domain":[0,6]},"axis":{"values":[0,2,4,6]},"title":null}},
"layer":[{"mark":"bar","encoding":{"fill":{"field":"g","type":"nominal","scale":{"domain":["IgG","Luc siRNA","HDAC1 siRNA","LSD1 siRNA"],"range":["#4d4d4d","#7a7a7a","#a6a6a6","#ebebeb"]},"title":null}}},{"mark":"rule","encoding":{"y2":{"field":"h"}}},{"mark":{"type":"tick","size":3},"encoding":{"y":{"field":"h","type":"quantitative"}}},{"mark":"text","transform":[{"filter":"datum.s"}],"encoding":{"y":{"field":"h","type":"quantitative"},"text":{"field":"s"}}}]}
]},
{"bounds": "flush", "spacing": 21,
"resolve": {"scale": {"fill": "independent", "xOffset": "independent"}, "legend": {"fill": "independent"}},
"hconcat": [
{"title":"F9, H3K4me2 on FOXA2 promoter","width":139,"height":64,"transform":[{"filter":"datum.p=='A5'"}],
"encoding":{"x":{"field":"x","type":"nominal","sort":["-6.0","-4.0","-2.0","0.0","+1.5","+2.0","+4.0"],"title":null,"scale":{"paddingInner":0.22,"paddingOuter":0.15}},"xOffset":{"field":"g","type":"nominal","sort":["IgG","Luc siRNA","HDAC1 siRNA","LSD1 siRNA"],"scale":{"paddingInner":0.12}},"y":{"field":"v","type":"quantitative","scale":{"domain":[0,20]},"axis":{"values":[0,5,10,15,20]},"title":["Fold change","compared to IgG"]}},
"layer":[{"mark":"bar","encoding":{"fill":{"field":"g","type":"nominal","scale":{"domain":["IgG","Luc siRNA","HDAC1 siRNA","LSD1 siRNA"],"range":["#4d4d4d","#7a7a7a","#a6a6a6","#ebebeb"]},"title":null}}},{"mark":"rule","encoding":{"y2":{"field":"h"}}},{"mark":{"type":"tick","size":3},"encoding":{"y":{"field":"h","type":"quantitative"}}},{"mark":"text","transform":[{"filter":"datum.s"}],"encoding":{"y":{"field":"h","type":"quantitative"},"text":{"field":"s"}}}]},
{"title":"F9, H4K16ac on FOXA2 promoter","width":150,"height":64,"transform":[{"filter":"datum.p=='A6'"}],
"encoding":{"x":{"field":"x","type":"nominal","sort":["-6.0","-4.0","-2.0","0.0","+1.5","+2.0","+4.0"],"title":null,"scale":{"paddingInner":0.22,"paddingOuter":0.15}},"xOffset":{"field":"g","type":"nominal","sort":["IgG","Luc siRNA","HDAC1 siRNA","LSD1 siRNA"],"scale":{"paddingInner":0.12}},"y":{"field":"v","type":"quantitative","scale":{"domain":[0,15]},"axis":{"values":[0,5,10,15]},"title":null}},
"layer":[{"mark":"bar","encoding":{"fill":{"field":"g","type":"nominal","scale":{"domain":["IgG","Luc siRNA","HDAC1 siRNA","LSD1 siRNA"],"range":["#4d4d4d","#7a7a7a","#a6a6a6","#ebebeb"]},"title":null}}},{"mark":"rule","encoding":{"y2":{"field":"h"}}},{"mark":{"type":"tick","size":3},"encoding":{"y":{"field":"h","type":"quantitative"}}},{"mark":"text","transform":[{"filter":"datum.s"}],"encoding":{"y":{"field":"h","type":"quantitative"},"text":{"field":"s"}}}]},
{"title":"PA-1, H3K4me2 on FOXA2 promoter","width":143,"height":64,"transform":[{"filter":"datum.p=='A7'"}],
"encoding":{"x":{"field":"x","type":"nominal","sort":["-6.0","-4.0","-2.0","0.0","+1.5","+2.0","+4.0"],"title":null,"scale":{"paddingInner":0.22,"paddingOuter":0.15}},"xOffset":{"field":"g","type":"nominal","sort":["IgG","Luc siRNA","HDAC1 siRNA","LSD1 siRNA"],"scale":{"paddingInner":0.12}},"y":{"field":"v","type":"quantitative","scale":{"domain":[0,20]},"axis":{"values":[0,5,10,15,20]},"title":null}},
"layer":[{"mark":"bar","encoding":{"fill":{"field":"g","type":"nominal","scale":{"domain":["IgG","Luc siRNA","HDAC1 siRNA","LSD1 siRNA"],"range":["#4d4d4d","#7a7a7a","#a6a6a6","#ebebeb"]},"title":null}}},{"mark":"rule","encoding":{"y2":{"field":"h"}}},{"mark":{"type":"tick","size":3},"encoding":{"y":{"field":"h","type":"quantitative"}}},{"mark":"text","transform":[{"filter":"datum.s"}],"encoding":{"y":{"field":"h","type":"quantitative"},"text":{"field":"s"}}}]},
{"title":"PA-1, H4K16ac on FOXA2 promoter","width":149,"height":64,"transform":[{"filter":"datum.p=='A8'"}],
"encoding":{"x":{"field":"x","type":"nominal","sort":["-6.0","-4.0","-2.0","0.0","+1.5","+2.0","+4.0"],"title":null,"scale":{"paddingInner":0.22,"paddingOuter":0.15}},"xOffset":{"field":"g","type":"nominal","sort":["IgG","Luc siRNA","HDAC1 siRNA","LSD1 siRNA"],"scale":{"paddingInner":0.12}},"y":{"field":"v","type":"quantitative","scale":{"domain":[0,25]},"axis":{"values":[0,5,10,15,20,25]},"title":null}},
"layer":[{"mark":"bar","encoding":{"fill":{"field":"g","type":"nominal","scale":{"domain":["IgG","Luc siRNA","HDAC1 siRNA","LSD1 siRNA"],"range":["#4d4d4d","#7a7a7a","#a6a6a6","#ebebeb"]},"title":null}}},{"mark":"rule","encoding":{"y2":{"field":"h"}}},{"mark":{"type":"tick","size":3},"encoding":{"y":{"field":"h","type":"quantitative"}}},{"mark":"text","transform":[{"filter":"datum.s"}],"encoding":{"y":{"field":"h","type":"quantitative"},"text":{"field":"s"}}}]}
]}
]},
{
"title": {"text": "B", "anchor": "start", "frame": "bounds", "fontSize": 22, "fontWeight": "normal", "offset": -13},
"spacing": 15,
"resolve": {"scale": {"fill": "independent", "xOffset": "independent"}, "legend": {"fill": "independent"}},
"vconcat": [
{"bounds": "flush", "spacing": 21,
"resolve": {"scale": {"fill": "independent", "xOffset": "independent"}, "legend": {"fill": "independent"}},
"hconcat": [
{"title":"F9, LSD1 on FOXA2 promoter","width":139,"height":65,"transform":[{"filter":"datum.p=='B1'"}],
"encoding":{"x":{"field":"x","type":"nominal","sort":["-6.0","-4.0","-2.0","0.0","+1.5","+2.0","+4.0"],"title":null,"scale":{"paddingInner":0.22,"paddingOuter":0.15}},"xOffset":{"field":"g","type":"nominal","sort":["IgG","DMSO","CBB1007","MS-275"],"scale":{"paddingInner":0.12}},"y":{"field":"v","type":"quantitative","scale":{"domain":[0,15]},"axis":{"values":[0,5,10,15]},"title":["Fold change","compared to IgG"]}},
"layer":[{"mark":"bar","encoding":{"fill":{"field":"g","type":"nominal","scale":{"domain":["IgG","DMSO","CBB1007","MS-275"],"range":["#4d4d4d","#7a7a7a","#a6a6a6","#ebebeb"]},"title":null,"legend":{"legendY":4}}}},{"mark":"rule","encoding":{"y2":{"field":"h"}}},{"mark":{"type":"tick","size":3},"encoding":{"y":{"field":"h","type":"quantitative"}}},{"mark":"text","transform":[{"filter":"datum.s"}],"encoding":{"y":{"field":"h","type":"quantitative"},"text":{"field":"s"}}}]},
{"title":"F9, HDAC1 on FOXA2 promoter","width":150,"height":65,"transform":[{"filter":"datum.p=='B2'"}],
"encoding":{"x":{"field":"x","type":"nominal","sort":["-6.0","-4.0","-2.0","0.0","+1.5","+2.0","+4.0"],"title":null,"scale":{"paddingInner":0.22,"paddingOuter":0.15}},"xOffset":{"field":"g","type":"nominal","sort":["IgG","DMSO","CBB1007","MS-275"],"scale":{"paddingInner":0.12}},"y":{"field":"v","type":"quantitative","scale":{"domain":[0,8]},"axis":{"values":[0,2,4,6,8]},"title":null}},
"layer":[{"mark":"bar","encoding":{"fill":{"field":"g","type":"nominal","scale":{"domain":["IgG","DMSO","CBB1007","MS-275"],"range":["#4d4d4d","#7a7a7a","#a6a6a6","#ebebeb"]},"title":null,"legend":{"legendY":4}}}},{"mark":"rule","encoding":{"y2":{"field":"h"}}},{"mark":{"type":"tick","size":3},"encoding":{"y":{"field":"h","type":"quantitative"}}},{"mark":"text","transform":[{"filter":"datum.s"}],"encoding":{"y":{"field":"h","type":"quantitative"},"text":{"field":"s"}}}]},
{"title":"PA-1, LSD1 on FOXA2 promoter","width":143,"height":65,"transform":[{"filter":"datum.p=='B3'"}],
"encoding":{"x":{"field":"x","type":"nominal","sort":["-6.0","-4.0","-2.0","0.0","+1.5","+2.0","+4.0"],"title":null,"scale":{"paddingInner":0.22,"paddingOuter":0.15}},"xOffset":{"field":"g","type":"nominal","sort":["IgG","DMSO","CBB1007","MS-275"],"scale":{"paddingInner":0.12}},"y":{"field":"v","type":"quantitative","scale":{"domain":[0,15]},"axis":{"values":[0,5,10,15]},"title":null}},
"layer":[{"mark":"bar","encoding":{"fill":{"field":"g","type":"nominal","scale":{"domain":["IgG","DMSO","CBB1007","MS-275"],"range":["#4d4d4d","#7a7a7a","#a6a6a6","#ebebeb"]},"title":null,"legend":{"legendY":4}}}},{"mark":"rule","encoding":{"y2":{"field":"h"}}},{"mark":{"type":"tick","size":3},"encoding":{"y":{"field":"h","type":"quantitative"}}},{"mark":"text","transform":[{"filter":"datum.s"}],"encoding":{"y":{"field":"h","type":"quantitative"},"text":{"field":"s"}}}]},
{"title":"PA-1, HDAC1 on FOXA2 promoter","width":149,"height":65,"transform":[{"filter":"datum.p=='B4'"}],
"encoding":{"x":{"field":"x","type":"nominal","sort":["-6.0","-4.0","-2.0","0.0","+1.5","+2.0","+4.0"],"title":null,"scale":{"paddingInner":0.22,"paddingOuter":0.15}},"xOffset":{"field":"g","type":"nominal","sort":["IgG","DMSO","CBB1007","MS-275"],"scale":{"paddingInner":0.12}},"y":{"field":"v","type":"quantitative","scale":{"domain":[0,10]},"axis":{"values":[0,2,4,6,8,10]},"title":null}},
"layer":[{"mark":"bar","encoding":{"fill":{"field":"g","type":"nominal","scale":{"domain":["IgG","DMSO","CBB1007","MS-275"],"range":["#4d4d4d","#7a7a7a","#a6a6a6","#ebebeb"]},"title":null,"legend":{"legendY":4}}}},{"mark":"rule","encoding":{"y2":{"field":"h"}}},{"mark":{"type":"tick","size":3},"encoding":{"y":{"field":"h","type":"quantitative"}}},{"mark":"text","transform":[{"filter":"datum.s"}],"encoding":{"y":{"field":"h","type":"quantitative"},"text":{"field":"s"}}}]}
]},
{"bounds": "flush", "spacing": 21,
"resolve": {"scale": {"fill": "independent", "xOffset": "independent"}, "legend": {"fill": "independent"}},
"hconcat": [
{"title":"F9, H3K4me2 on FOXA2 promoter","width":139,"height":56,"transform":[{"filter":"datum.p=='B5'"}],
"encoding":{"x":{"field":"x","type":"nominal","sort":["-6.0","-4.0","-2.0","0.0","+1.5","+2.0","+4.0"],"title":null,"scale":{"paddingInner":0.22,"paddingOuter":0.15}},"xOffset":{"field":"g","type":"nominal","sort":["IgG","DMSO","CBB1007","MS-275"],"scale":{"paddingInner":0.12}},"y":{"field":"v","type":"quantitative","scale":{"domain":[0,25]},"axis":{"values":[0,5,10,15,20,25]},"title":["Fold change","compared to IgG"]}},
"layer":[{"mark":"bar","encoding":{"fill":{"field":"g","type":"nominal","scale":{"domain":["IgG","DMSO","CBB1007","MS-275"],"range":["#4d4d4d","#7a7a7a","#a6a6a6","#ebebeb"]},"title":null,"legend":{"legendY":2}}}},{"mark":"rule","encoding":{"y2":{"field":"h"}}},{"mark":{"type":"tick","size":3},"encoding":{"y":{"field":"h","type":"quantitative"}}},{"mark":"text","transform":[{"filter":"datum.s"}],"encoding":{"y":{"field":"h","type":"quantitative"},"text":{"field":"s"}}}]},
{"title":"F9, H4K16ac on FOXA2 promoter","width":150,"height":56,"transform":[{"filter":"datum.p=='B6'"}],
"encoding":{"x":{"field":"x","type":"nominal","sort":["-6.0","-4.0","-2.0","0.0","+1.5","+2.0","+4.0"],"title":null,"scale":{"paddingInner":0.22,"paddingOuter":0.15}},"xOffset":{"field":"g","type":"nominal","sort":["IgG","DMSO","CBB1007","MS-275"],"scale":{"paddingInner":0.12}},"y":{"field":"v","type":"quantitative","scale":{"domain":[0,25]},"axis":{"values":[0,5,10,15,20,25]},"title":null}},
"layer":[{"mark":"bar","encoding":{"fill":{"field":"g","type":"nominal","scale":{"domain":["IgG","DMSO","CBB1007","MS-275"],"range":["#4d4d4d","#7a7a7a","#a6a6a6","#ebebeb"]},"title":null,"legend":{"legendY":2}}}},{"mark":"rule","encoding":{"y2":{"field":"h"}}},{"mark":{"type":"tick","size":3},"encoding":{"y":{"field":"h","type":"quantitative"}}},{"mark":"text","transform":[{"filter":"datum.s"}],"encoding":{"y":{"field":"h","type":"quantitative"},"text":{"field":"s"}}}]},
{"title":"PA-1, H3K4me2 on FOXA2 promoter","width":143,"height":56,"transform":[{"filter":"datum.p=='B7'"}],
"encoding":{"x":{"field":"x","type":"nominal","sort":["-6.0","-4.0","-2.0","0.0","+1.5","+2.0","+4.0"],"title":null,"scale":{"paddingInner":0.22,"paddingOuter":0.15}},"xOffset":{"field":"g","type":"nominal","sort":["IgG","DMSO","CBB1007","MS-275"],"scale":{"paddingInner":0.12}},"y":{"field":"v","type":"quantitative","scale":{"domain":[0,20]},"axis":{"values":[0,5,10,15,20]},"title":null}},
"layer":[{"mark":"bar","encoding":{"fill":{"field":"g","type":"nominal","scale":{"domain":["IgG","DMSO","CBB1007","MS-275"],"range":["#4d4d4d","#7a7a7a","#a6a6a6","#ebebeb"]},"title":null,"legend":{"legendY":2}}}},{"mark":"rule","encoding":{"y2":{"field":"h"}}},{"mark":{"type":"tick","size":3},"encoding":{"y":{"field":"h","type":"quantitative"}}},{"mark":"text","transform":[{"filter":"datum.s"}],"encoding":{"y":{"field":"h","type":"quantitative"},"text":{"field":"s"}}}]},
{"title":"PA-1, H4K16ac on FOXA2 promoter","width":149,"height":56,"transform":[{"filter":"datum.p=='B8'"}],
"encoding":{"x":{"field":"x","type":"nominal","sort":["-6.0","-4.0","-2.0","0.0","+1.5","+2.0","+4.0"],"title":null,"scale":{"paddingInner":0.22,"paddingOuter":0.15}},"xOffset":{"field":"g","type":"nominal","sort":["IgG","DMSO","CBB1007","MS-275"],"scale":{"paddingInner":0.12}},"y":{"field":"v","type":"quantitative","scale":{"domain":[0,40]},"axis":{"values":[0,10,20,30,40]},"title":null}},
"layer":[{"mark":"bar","encoding":{"fill":{"field":"g","type":"nominal","scale":{"domain":["IgG","DMSO","CBB1007","MS-275"],"range":["#4d4d4d","#7a7a7a","#a6a6a6","#ebebeb"]},"title":null,"legend":{"legendY":2}}}},{"mark":"rule","encoding":{"y2":{"field":"h"}}},{"mark":{"type":"tick","size":3},"encoding":{"y":{"field":"h","type":"quantitative"}}},{"mark":"text","transform":[{"filter":"datum.s"}],"encoding":{"y":{"field":"h","type":"quantitative"},"text":{"field":"s"}}}]}
]}
]}
],
"config": {
"font": "Liberation Sans",
"view": {"stroke": null},
"title": {"fontSize": 9, "fontWeight": "normal", "anchor": "start", "frame": "group", "offset": 0, "color": "black"},
"axis": {"domainColor": "black", "tickColor": "black", "labelColor": "black", "titleColor": "black", "grid": false, "domainWidth": 1},
"axisX": {"labelAngle": -45, "labelFontSize": 7, "labelFontWeight": "bold", "ticks": false, "labelPadding": 3},
"axisY": {"labelFontSize": 10, "tickSize": 2.5, "labelPadding": 1, "titleFontSize": 9.5, "titleLineHeight": 10, "titleFontWeight": "normal", "titlePadding": 0},
"legend": {"orient": "none", "legendX": 89, "legendY": 0, "labelFontSize": 8, "rowPadding": 1.3, "symbolType": "M-1,-0.6H1V0.6H-1Z", "symbolSize": 64, "symbolStrokeColor": "black", "symbolStrokeWidth": 0.6, "labelOffset": 3, "padding": 0},
"bar": {"stroke": "black", "strokeWidth": 0.5},
"rule": {"color": "black", "strokeWidth": 0.7},
"tick": {"color": "black", "thickness": 0.7},
"text": {"fontSize": 7, "baseline": "alphabetic", "dy": 4, "color": "black"}
}
}
